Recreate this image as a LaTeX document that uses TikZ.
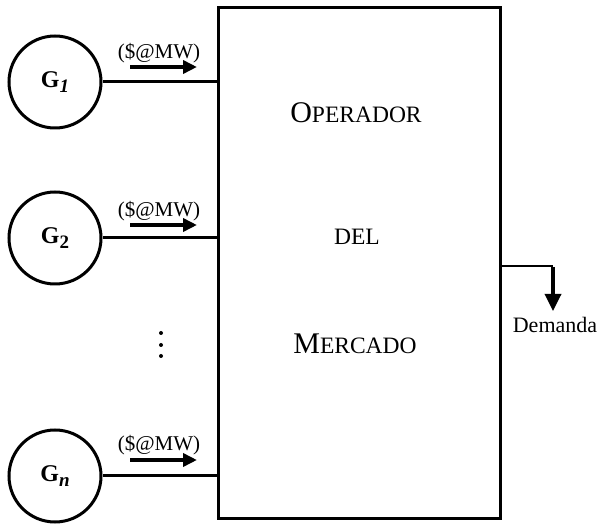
\documentclass[tikz,border=0pt]{standalone}
\usepackage{fontspec}
\setmainfont{Liberation Serif}
\usetikzlibrary{arrows.meta,positioning}

% fake small caps: big initial, smaller capitals
\newcommand{\fakesc}[2]{{\fontsize{30}{30}\selectfont #1}{\fontsize{23.5}{24}\selectfont #2}}
\newcommand{\gsub}[1]{\raisebox{-4.5pt}{\fontsize{19}{19}\selectfont #1}}

\begin{document}
\begin{tikzpicture}[x=1pt,y=-1pt,
    gen/.style={circle,draw,line width=3pt,minimum size=92pt,inner sep=0pt,
      font=\fontsize{24}{24}\selectfont\bfseries},
    link/.style={line width=3pt},
    flow/.style={line width=3.6pt,-{Triangle[length=14pt,width=13pt]}},
    price/.style={anchor=base,inner sep=0pt,font=\fontsize{21}{21}\selectfont},
    title/.style={anchor=base,inner sep=0pt}]
  \useasboundingbox (0,0) rectangle (600,526);

  % market operator
  \node[draw,line width=3pt,minimum width=282pt,minimum height=510pt,inner sep=0pt]
    (mo) at (359,263) {};
  \node[title] (op) at (356,123) {\fakesc{O}{PERADOR}};
  \node[title] (del) at (357,245) {\fontsize{23.5}{24}\selectfont DEL};
  \node[title] (mer) at (355,354) {\fakesc{M}{ERCADO}};

  % generators
  \node[gen] (g1) at (55,82) {G\gsub{\textit{1}}};
  \node[gen] (g2) at (55,238) {G\gsub{2}};
  \node[gen] (gn) at (55,476) {G\gsub{\textit{n}}};
  \foreach \g in {g1,g2,gn}
    \draw[link] (\g.east) -- (mo.west |- \g.east);

  % offers
  \foreach \g/\ya/\yt in {g1/67/59,g2/225/217,gn/460/450} {
    \coordinate (\g s) at (130,\ya);
    \coordinate (\g e) at (197,\ya);
    \node[price] (\g p) at (159,\yt) {(\$@MW)};
    \draw[flow] (\g s) -- (\g e);
  }

  % vertical dots
  \foreach \y in {333,345,356}
    \fill (161,\y) circle (2pt);

  % demand
  \coordinate (dturn) at (553,266);
  \coordinate (dtip) at (553,311);
  \node[anchor=base,inner sep=0pt,font=\fontsize{22}{22}\selectfont]
    (dem) at (555,333) {Demanda};
  \draw[line width=1.6pt] (mo.east |- dturn) -- (dturn);
  \draw[line width=3.4pt,-{Triangle[length=17pt,width=16pt]}] ([yshift=-0.8pt]dturn) -- (dtip);
\end{tikzpicture}
\end{document}
